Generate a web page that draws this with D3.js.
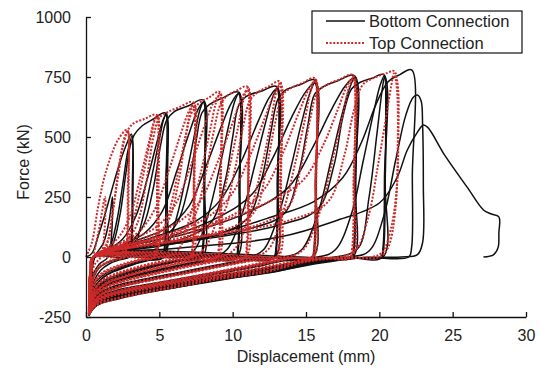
<!DOCTYPE html>
<html>
<head>
<meta charset="utf-8">
<script src="https://cdn.jsdelivr.net/npm/d3@7"></script>
<style>
  body { margin: 0; background: #fff; }
  text { font-family: Arial, "Liberation Sans", sans-serif; fill: #222; }
</style>
</head>
<body>
<div id="app"></div>
<script>
const seriesNames = ['Bottom Connection', 'Top Connection']
const xTicks = [0, 5, 10, 15, 20, 25, 30]
const yTicks = [-250, 0, 250, 500, 750, 1000]

// displacement (mm), force (kN), one array per cycle
const bottomLoops = [
  [[0.3,-120],[0.6,0],[1.2,60],[1.6,160],[1.8,250],[1.75,100],[1.5,0],[0.9,-30],[0.5,-70],[0.3,-120]],
  [[0,0],[0.4,15],[0.9,100],[1.4,200],[1.9,310],[2.4,410],[2.8,475],[3.1,512],[3.15,260],[3.05,40],[2.9,0],[2.2,-8],[1.5,-22],[0.9,-45],[0.5,-90],[0.3,-150],[0.2,-205]],
  [[0.2,-205],[0.3,-60],[0.6,0],[1.0,5],[1.6,40],[2.1,150],[2.5,300],[2.85,440],[3.15,505],[3.2,260],[3.1,40],[2.95,0],[2.3,-12],[1.6,-28],[1,-55],[0.55,-100],[0.3,-160],[0.2,-208]],
  [[0.2,-208],[0.3,-60],[0.6,0],[1.2,10],[1.8,50],[2.3,170],[2.7,340],[3.0,460],[3.3,510],[3.8,545],[4.6,575],[5.4,600],[5.45,300],[5.35,40],[5.2,0],[4.2,-10],[3.2,-25],[2.2,-45],[1.3,-70],[0.6,-110],[0.3,-160],[0.2,-212]],
  [[0.2,-212],[0.3,-60],[0.6,0],[2.6,0],[3.2,30],[3.9,170],[4.5,340],[5.0,490],[5.3,575],[5.5,598],[5.55,300],[5.45,40],[5.3,0],[4.3,-12],[3.3,-28],[2.3,-48],[1.4,-74],[0.7,-115],[0.35,-165],[0.2,-214]],
  [[0.2,-214],[0.35,-50],[0.6,0],[1.5,30],[2.5,75],[3.4,170],[4.2,330],[4.8,470],[5.25,570],[5.45,592],[5.45,300],[5.35,0],[4.3,-14],[3.2,-32],[2.2,-54],[1.3,-80],[0.6,-125],[0.2,-216]],
  [[0.2,-214],[0.35,-50],[0.6,0],[2.0,20],[3.0,60],[3.9,130],[4.6,290],[5.1,470],[5.5,570],[6.0,605],[7.0,630],[8.0,654],[8.05,320],[7.95,40],[7.8,0],[6.5,-10],[5,-28],[3.5,-50],[2.2,-74],[1.2,-100],[0.5,-145],[0.2,-215]],
  [[0.2,-215],[0.35,-60],[0.6,0],[4.6,0],[5.4,30],[6.2,170],[6.9,360],[7.4,510],[7.8,620],[8.05,650],[8.1,320],[8.0,40],[7.85,0],[6.5,-13],[5,-32],[3.5,-55],[2.2,-80],[1.2,-106],[0.5,-150],[0.2,-218]],
  [[0.2,-218],[0.4,-40],[0.6,0],[2.5,50],[4,100],[5.2,190],[6.2,360],[7.0,510],[7.6,610],[8.0,645],[8.05,300],[7.95,0],[6.5,-16],[5,-36],[3.5,-60],[2.2,-85],[1.2,-112],[0.5,-155],[0.2,-220]],
  [[0.2,-218],[0.35,-50],[0.6,0],[3,30],[5,70],[6.2,140],[7.0,300],[7.5,480],[7.9,600],[8.4,635],[9.4,665],[10.4,687],[10.45,320],[10.35,40],[10.2,0],[8.5,-10],[6.5,-32],[4.5,-58],[2.5,-88],[1.2,-118],[0.5,-160],[0.2,-220]],
  [[0.2,-220],[0.35,-60],[0.6,0],[6.5,0],[7.4,30],[8.3,170],[9.1,370],[9.7,540],[10.15,650],[10.45,685],[10.5,320],[10.4,40],[10.25,0],[8.5,-13],[6.5,-36],[4.5,-62],[2.5,-92],[1.2,-122],[0.5,-165],[0.2,-222]],
  [[0.2,-222],[0.4,-40],[0.6,0],[3.5,70],[5.5,120],[7.0,210],[8.2,380],[9.2,540],[9.9,640],[10.4,680],[10.45,300],[10.3,0],[8.5,-16],[6.5,-40],[4.5,-66],[2.5,-96],[1.2,-126],[0.5,-170],[0.2,-224]],
  [[0.2,-222],[0.4,-50],[0.6,0],[4,40],[7,85],[8.6,150],[9.5,320],[10.0,500],[10.4,630],[10.9,668],[12.0,692],[13.0,710],[13.05,330],[12.95,40],[12.8,0],[11,-10],[9,-32],[6.5,-62],[4,-92],[2,-120],[0.8,-155],[0.2,-225]],
  [[0.2,-225],[0.4,-55],[0.6,0],[8.5,0],[9.6,30],[10.6,170],[11.5,380],[12.2,550],[12.7,660],[13.05,705],[13.1,320],[13,40],[12.85,0],[11,-13],[9,-36],[6.5,-66],[4,-96],[2,-125],[0.8,-160],[0.2,-228]],
  [[0.2,-228],[0.4,-45],[0.6,0],[4.5,80],[7.5,150],[9.2,240],[10.6,400],[11.7,560],[12.5,665],[13.0,700],[13.05,300],[12.9,0],[11,-16],[9,-40],[6.5,-70],[4,-100],[2,-130],[0.8,-165],[0.2,-230]],
  [[0.2,-225],[0.4,-50],[0.6,0],[5,45],[9,95],[11,160],[12,330],[12.6,520],[13.1,660],[13.6,695],[14.6,718],[15.6,737],[15.65,330],[15.55,40],[15.4,0],[13.5,-10],[11.5,-35],[9,-62],[6.5,-90],[4,-116],[2,-140],[0.8,-170],[0.2,-228]],
  [[0.2,-228],[0.4,-55],[0.6,0],[11,0],[12.1,30],[13.1,170],[14.0,380],[14.7,560],[15.25,680],[15.65,732],[15.7,320],[15.6,40],[15.45,0],[13.5,-13],[11.5,-38],[9,-66],[6.5,-94],[4,-120],[2,-145],[0.8,-175],[0.2,-230]],
  [[0.2,-230],[0.4,-50],[0.6,0],[6,90],[9,165],[11.3,260],[12.8,420],[14.0,580],[15.0,690],[15.6,725],[15.65,300],[15.5,0],[13.5,-16],[11.5,-42],[9,-70],[6.5,-98],[4,-124],[2,-150],[0.8,-180],[0.2,-232]],
  [[0.2,-230],[0.4,-55],[0.6,0],[6,60],[11,115],[13.5,180],[14.5,350],[15.1,540],[15.6,680],[16.2,710],[17.2,735],[18.3,756],[18.35,330],[18.25,40],[18.1,0],[16.5,-3],[14.5,-20],[12,-48],[9,-78],[6,-108],[3.5,-135],[1.6,-160],[0.6,-192],[0.2,-232]],
  [[0.2,-232],[0.4,-55],[0.6,0],[13.5,0],[14.7,30],[15.8,180],[16.7,400],[17.4,580],[17.95,700],[18.35,750],[18.4,320],[18.3,40],[18.15,0],[16.5,-4],[14.5,-24],[12,-52],[9,-82],[6,-112],[3.5,-140],[1.6,-165],[0.6,-196],[0.2,-234]],
  [[0.2,-234],[0.4,-50],[0.6,0],[7,100],[11,185],[13.8,290],[15.4,450],[16.7,610],[17.7,715],[18.3,745],[18.35,300],[18.2,0],[16.5,-5],[14.5,-28],[12,-56],[9,-86],[6,-116],[3.5,-144],[1.6,-170],[0.6,-200],[0.2,-236]],
  [[0.2,-234],[0.4,-60],[0.6,0],[7,65],[13,130],[15.8,200],[16.9,380],[17.5,580],[18.1,700],[18.7,728],[19.5,745],[20.3,760],[20.35,330],[20.25,40],[20.1,0],[18,-2],[15.5,-18],[13,-52],[10,-80],[7,-110],[4,-140],[2,-163],[0.7,-196],[0.2,-236]],
  [[0.2,-236],[0.4,-55],[0.6,0],[15.8,0],[17,30],[18.1,180],[18.9,400],[19.6,600],[20.05,715],[20.35,755],[20.4,320],[20.3,40],[20.15,0],[18,-3],[15.5,-22],[13,-56],[10,-84],[7,-114],[4,-144],[2,-167],[0.7,-200],[0.2,-238]],
  [[0.2,-238],[0.4,-50],[0.6,0],[9,0],[17.5,5],[18.6,40],[19.3,250],[19.85,520],[20.2,700],[20.35,750],[20.4,300],[20.25,0],[18,-4],[15.5,-26],[13,-60],[10,-88],[7,-118],[4,-148],[2,-170],[0.7,-204],[0.2,-240]],
  [[0.2,-238],[0.4,-60],[0.6,0],[8,80],[12.3,160],[15.5,230],[17.5,330],[18.8,480],[19.8,640],[20.6,730],[21.4,760],[22.2,780],[22.25,340],[22.2,40],[22.0,0],[19,-2],[16,-22],[12.3,-62],[9,-90],[6.8,-117],[4,-148],[2.3,-171],[0.7,-200],[0.2,-242]],
  [[0.2,-242],[0.4,-60],[0.6,0],[18,0],[19.3,25],[20.3,170],[21.1,400],[21.8,590],[22.3,665],[22.6,675],[22.85,650],[22.95,550],[23.0,300],[22.95,60],[22.6,10],[21.5,0],[19,-2],[16,-25],[12.3,-66],[9,-95],[6.8,-120],[4,-150],[2.3,-173],[0.7,-203],[0.2,-245]],
  [[0.2,-245],[0.4,-60],[0.6,0],[6,35],[13.2,83],[17,150],[20,225],[21.2,330],[21.9,445],[22.6,520],[23.0,550],[23.3,540],[24.5,420],[26,290],[27.1,196],[27.6,180],[28.15,167],[28.15,100],[28.1,40],[27.8,10],[27.1,0]]
]

const topLoops = [
  [[0.2,-150],[0.5,0],[0.9,120],[1.3,250],[1.25,100],[1.0,0],[0.6,-30],[0.35,-80],[0.2,-150]],
  [[0,0],[0.4,60],[0.8,200],[1.2,320],[1.7,420],[2.2,490],[2.8,530],[2.85,280],[2.75,40],[2.6,0],[2.0,-8],[1.4,-22],[0.8,-45],[0.45,-90],[0.3,-150],[0.2,-208]],
  [[0.2,-208],[0.3,-60],[0.5,0],[0.9,5],[1.4,50],[1.8,180],[2.2,340],[2.55,470],[2.85,525],[2.9,280],[2.8,40],[2.65,0],[2,-10],[1.3,-28],[0.8,-52],[0.45,-100],[0.3,-160],[0.2,-210]],
  [[0.2,-210],[0.3,-55],[0.5,0],[1.0,15],[1.5,70],[1.9,220],[2.3,400],[2.7,510],[3.2,555],[4.0,575],[4.8,592],[4.85,300],[4.75,40],[4.6,0],[3.7,-10],[2.8,-24],[1.9,-42],[1.1,-66],[0.55,-105],[0.3,-160],[0.2,-212]],
  [[0.2,-212],[0.3,-55],[0.5,0],[2.0,0],[2.6,30],[3.3,170],[3.9,340],[4.4,490],[4.7,570],[4.9,590],[4.95,300],[4.85,40],[4.7,0],[3.8,-12],[2.8,-28],[1.9,-46],[1.1,-70],[0.55,-110],[0.3,-165],[0.2,-214]],
  [[0.2,-214],[0.35,-50],[0.5,0],[1.3,35],[2.2,80],[3.0,170],[3.7,330],[4.3,480],[4.7,575],[4.85,585],[4.85,300],[4.7,0],[3.7,-14],[2.7,-32],[1.8,-52],[1.0,-78],[0.5,-120],[0.2,-216]],
  [[0.2,-214],[0.35,-50],[0.5,0],[1.8,25],[2.8,70],[3.5,140],[4.1,310],[4.6,500],[5.0,580],[5.6,605],[6.4,625],[7.3,645],[7.35,320],[7.25,40],[7.1,0],[5.9,-10],[4.5,-26],[3.2,-46],[2,-70],[1.1,-96],[0.5,-140],[0.2,-216]],
  [[0.2,-216],[0.3,-55],[0.5,0],[4.0,0],[4.8,30],[5.6,170],[6.3,360],[6.8,510],[7.15,615],[7.35,642],[7.4,320],[7.3,40],[7.15,0],[5.9,-13],[4.5,-30],[3.2,-50],[2,-74],[1.1,-100],[0.5,-145],[0.2,-218]],
  [[0.2,-218],[0.35,-50],[0.5,0],[2.2,55],[3.6,105],[4.7,200],[5.7,370],[6.5,520],[7.0,605],[7.3,632],[7.35,300],[7.2,0],[5.9,-16],[4.4,-34],[3,-56],[1.9,-80],[1,-106],[0.5,-150],[0.2,-220]],
  [[0.2,-218],[0.35,-55],[0.5,0],[2.5,35],[4.5,80],[5.6,150],[6.3,310],[6.8,500],[7.2,600],[7.7,640],[8.4,665],[9.1,688],[9.15,320],[9.05,40],[8.9,0],[7.4,-10],[5.7,-30],[4,-54],[2.5,-80],[1.3,-110],[0.5,-155],[0.2,-220]],
  [[0.2,-220],[0.3,-55],[0.5,0],[5.4,0],[6.3,30],[7.1,170],[7.9,370],[8.5,540],[8.85,640],[9.15,685],[9.2,320],[9.1,40],[8.95,0],[7.4,-13],[5.7,-34],[4,-58],[2.5,-84],[1.3,-114],[0.5,-160],[0.2,-222]],
  [[0.2,-222],[0.35,-50],[0.5,0],[3,70],[4.8,125],[6.1,220],[7.2,390],[8.1,550],[8.7,645],[9.1,672],[9.15,300],[9.0,0],[7.4,-16],[5.6,-38],[3.9,-62],[2.4,-88],[1.2,-118],[0.5,-165],[0.2,-224]],
  [[0.2,-222],[0.35,-55],[0.5,0],[3.5,45],[6,95],[7.3,160],[8.1,330],[8.7,520],[9.2,640],[9.7,675],[10.3,694],[11.0,710],[11.05,330],[10.95,40],[10.8,0],[9.2,-10],[7.3,-30],[5.2,-58],[3.2,-86],[1.7,-114],[0.7,-152],[0.2,-224]],
  [[0.2,-224],[0.3,-55],[0.5,0],[7,0],[8,30],[9,170],[9.8,380],[10.4,550],[10.75,660],[11.05,705],[11.1,320],[11,40],[10.85,0],[9.2,-13],[7.3,-34],[5.2,-62],[3.2,-90],[1.7,-118],[0.7,-157],[0.2,-226]],
  [[0.2,-226],[0.35,-50],[0.5,0],[4,80],[6.3,145],[7.8,235],[9.0,400],[10.0,560],[10.6,660],[11.0,695],[11.05,300],[10.9,0],[9.2,-16],[7.2,-38],[5.1,-66],[3.1,-94],[1.6,-122],[0.6,-162],[0.2,-228]],
  [[0.2,-226],[0.35,-55],[0.5,0],[4.5,55],[8,110],[9.3,175],[10.1,350],[10.7,540],[11.2,655],[11.8,690],[12.5,712],[13.2,732],[13.25,330],[13.15,40],[13.0,0],[11.3,-10],[9.3,-32],[7,-60],[4.5,-90],[2.3,-120],[0.9,-158],[0.2,-228]],
  [[0.2,-228],[0.3,-55],[0.5,0],[9,0],[10.1,30],[11.1,170],[12,380],[12.6,560],[12.95,680],[13.25,728],[13.3,320],[13.2,40],[13.05,0],[11.3,-13],[9.3,-36],[7,-64],[4.5,-94],[2.3,-124],[0.9,-163],[0.2,-230]],
  [[0.2,-230],[0.35,-50],[0.5,0],[5,85],[8,155],[9.8,250],[11.1,410],[12.2,580],[12.8,675],[13.2,715],[13.25,300],[13.1,0],[11.3,-16],[9.2,-40],[6.9,-68],[4.4,-98],[2.2,-128],[0.8,-168],[0.2,-232]],
  [[0.2,-230],[0.35,-55],[0.5,0],[5.5,60],[10,125],[11.5,190],[12.3,370],[12.9,560],[13.4,675],[14.0,705],[14.8,726],[15.6,745],[15.65,330],[15.55,40],[15.4,0],[14,-4],[12,-24],[9.5,-54],[7,-84],[4.5,-112],[2.2,-140],[0.9,-170],[0.2,-232]],
  [[0.2,-232],[0.3,-55],[0.5,0],[11.2,0],[12.4,30],[13.4,180],[14.3,400],[14.95,580],[15.35,700],[15.65,740],[15.7,320],[15.6,40],[15.45,0],[14,-5],[12,-28],[9.5,-58],[7,-88],[4.5,-116],[2.2,-145],[0.9,-175],[0.2,-234]],
  [[0.2,-234],[0.35,-50],[0.5,0],[6,95],[10,175],[12,270],[13.4,430],[14.5,600],[15.2,700],[15.6,732],[15.65,300],[15.5,0],[14,-6],[12,-32],[9.5,-62],[7,-92],[4.4,-120],[2.1,-150],[0.8,-180],[0.2,-236]],
  [[0.2,-234],[0.35,-55],[0.5,0],[6.5,70],[12,140],[13.8,210],[14.7,390],[15.3,580],[15.8,690],[16.5,720],[17.3,740],[18.2,758],[18.25,330],[18.15,40],[18.0,0],[16.2,-3],[14.2,-18],[11.8,-46],[9,-76],[6,-106],[3.4,-134],[1.5,-160],[0.6,-192],[0.2,-236]],
  [[0.2,-236],[0.3,-55],[0.5,0],[13.6,0],[14.8,30],[15.9,180],[16.8,400],[17.5,590],[17.95,710],[18.25,752],[18.3,320],[18.2,40],[18.05,0],[16.2,-4],[14.2,-22],[11.8,-50],[9,-80],[6,-110],[3.4,-138],[1.5,-165],[0.6,-196],[0.2,-238]],
  [[0.2,-238],[0.35,-50],[0.5,0],[7.5,110],[12.3,225],[14.8,320],[16.2,470],[17.2,620],[17.85,720],[18.2,745],[18.25,300],[18.1,0],[16.2,-5],[14.2,-26],[11.8,-54],[9,-84],[6,-114],[3.4,-142],[1.5,-168],[0.6,-200],[0.2,-240]],
  [[0.2,-238],[0.35,-55],[0.5,0],[7.5,80],[14,155],[16.5,230],[17.6,420],[18.3,620],[18.9,720],[19.7,748],[20.5,766],[21.0,775],[21.25,720],[21.3,500],[21.2,300],[20.8,120],[20.2,20],[19.5,0],[17.5,-2],[15,-16],[12.3,-58],[9,-88],[6.8,-114],[4,-146],[2.3,-168],[0.7,-198],[0.2,-240]],
  [[0.2,-240],[0.3,-50],[0.5,0],[17.2,0],[18.4,30],[19.3,180],[19.9,380],[20.4,560],[20.8,710],[21.0,765],[21.2,700],[21.25,450],[21.1,200],[20.6,40],[20,0],[17.5,-3],[15,-20],[12.3,-62],[9,-92],[6.8,-118],[4,-150],[2.3,-172],[0.7,-202],[0.2,-242]]
]

const W = 539, H = 370
const svg = d3.select('#app').append('svg').attr('width', W).attr('height', H)

const x = d3.scaleLinear().domain([0, 30]).range([86, 526])
const y = d3.scaleLinear().domain([-250, 1000]).range([317, 17])

const line = d3.line()
  .x(d => x(d[0]))
  .y(d => y(d[1]))
  .curve(d3.curveCatmullRom.alpha(0.5))

const styles = [
  { stroke: '#111', width: 1.5, dash: null },
  { stroke: '#cf2a2a', width: 2, dash: '2,1.6' },
]

// Bottom connection, solid black
svg.append('g')
  .selectAll('path')
  .data(bottomLoops)
  .join('path')
  .attr('d', line)
  .attr('fill', 'none')
  .attr('stroke', styles[0].stroke)
  .attr('stroke-width', styles[0].width)

// Top connection, dotted red
svg.append('g')
  .selectAll('path')
  .data(topLoops)
  .join('path')
  .attr('d', line)
  .attr('fill', 'none')
  .attr('stroke', styles[1].stroke)
  .attr('stroke-width', styles[1].width)
  .attr('stroke-dasharray', styles[1].dash)

// Axes, ticks pointing inward
const xAxis = svg.append('g')
  .attr('transform', `translate(0,${y(-250)})`)
  .call(d3.axisBottom(x).tickValues(xTicks).tickFormat(d => String(d))
    .tickSizeInner(-5).tickSizeOuter(0).tickPadding(13))
const yAxis = svg.append('g')
  .attr('transform', `translate(${x(0)},0)`)
  .call(d3.axisLeft(y).tickValues(yTicks).tickFormat(d => String(d))
    .tickSizeInner(-5).tickSizeOuter(0).tickPadding(15))

;[xAxis, yAxis].forEach(g => {
  g.select('.domain').attr('stroke', '#111').attr('stroke-width', 1.3)
  g.selectAll('.tick line').attr('stroke', '#111').attr('stroke-width', 1.3)
  g.selectAll('.tick text')
    .style('font-family', 'Arial, "Liberation Sans", sans-serif')
    .style('font-size', '16px')
    .attr('fill', '#222')
})

// Axis labels
svg.append('text')
  .attr('x', 306)
  .attr('y', 362)
  .attr('text-anchor', 'middle')
  .style('font-size', '16px')
  .text('Displacement (mm)')

svg.append('text')
  .attr('transform', 'rotate(-90)')
  .attr('x', -162)
  .attr('y', 29)
  .attr('text-anchor', 'middle')
  .style('font-size', '16px')
  .text('Force (kN)')

// Legend
const legend = svg.append('g').attr('transform', 'translate(312,11)')
legend.append('rect')
  .attr('width', 210)
  .attr('height', 42)
  .attr('fill', '#fff')
  .attr('stroke', '#111')
  .attr('stroke-width', 1.2)

seriesNames.forEach((name, i) => {
  const row = legend.append('g').attr('transform', `translate(0,${10 + i * 22})`)
  row.append('line')
    .attr('x1', 14).attr('x2', 53)
    .attr('stroke', styles[i].stroke)
    .attr('stroke-width', styles[i].width)
    .attr('stroke-dasharray', styles[i].dash)
  row.append('text')
    .attr('x', 57)
    .attr('dy', '0.35em')
    .style('font-size', '16.5px')
    .text(name)
})
</script>
</body>
</html>
